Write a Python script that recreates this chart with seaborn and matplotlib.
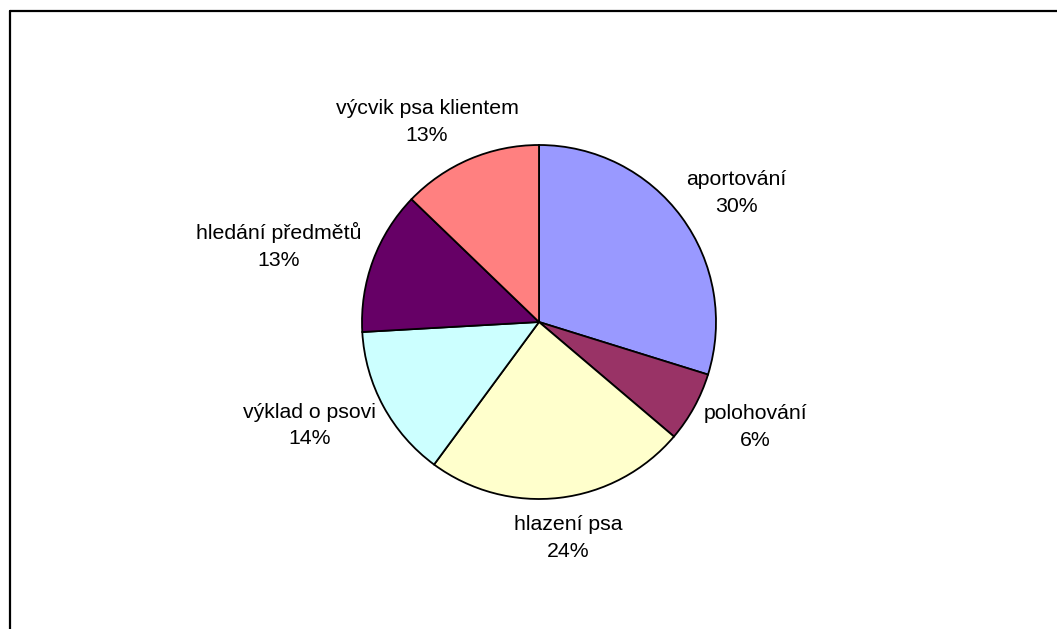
import numpy as np
import matplotlib
matplotlib.use("Agg")
import matplotlib.pyplot as plt
import seaborn as sns
from matplotlib.lines import Line2D

# ------------------------------------------------------------------
# Data (percent of all answers)
# ------------------------------------------------------------------
categories = ["aportování", "polohování", "hlazení psa", "výklad o psovi",
              "hledání předmětů", "výcvik psa klientem"]
shares = [29.8, 6.4, 23.9, 14.0, 13.1, 12.8]
colors = ["#9999FF", "#993366", "#FFFFCC", "#CCFFFF", "#660066", "#FF8080"]

W, H, DPI = 1057, 629, 100

sns.set_theme(style="white")
plt.rcParams["font.family"] = ["Liberation Sans", "DejaVu Sans"]

fig = plt.figure(figsize=(W / DPI, H / DPI), dpi=DPI)
fig.patch.set_facecolor("white")

# Chart-area frame (only the top and left edges are visible in the crop)
fig.add_artist(Line2D([10 / W, 1], [1 - 11 / H, 1 - 11 / H], color="black", lw=1.6))
fig.add_artist(Line2D([10 / W, 10 / W], [0, 1 - 11 / H], color="black", lw=1.6))

# Square axes holding the pie: centre (539, 322) px, radius 177 px
cx, cy, r = 539, 322, 177
ax = fig.add_axes([(cx - r) / W, (H - cy - r) / H, 2 * r / W, 2 * r / H])

wedges, _ = ax.pie(shares, colors=colors, startangle=90, counterclock=False,
                   wedgeprops=dict(edgecolor="black", linewidth=1.3))
ax.set_xlim(-1, 1)
ax.set_ylim(-1, 1)
ax.axis("off")

# Excel-like labels: anchor just outside the rim, box pushed outward
fig.canvas.draw()
renderer = fig.canvas.get_renderer()
total = sum(shares)
for w, name, val in zip(wedges, categories, shares):
    mid = np.deg2rad((w.theta1 + w.theta2) / 2)
    c, s = np.cos(mid), np.sin(mid)
    txt = f"{name}\n{val / total * 100:.0f}%"
    t = ax.text(0, 0, txt, ha="center", va="center", fontsize=15.3,
                color="black", linespacing=1.5, clip_on=False)
    bb = t.get_window_extent(renderer)
    # offset in data units (1 data unit = r pixels)
    dx = c * (bb.width / 2) / r
    dy = s * (bb.height / 2) / r
    t.set_position((1.1 * c + dx, 1.1 * s + dy))

fig.savefig("out.png", dpi=DPI)
